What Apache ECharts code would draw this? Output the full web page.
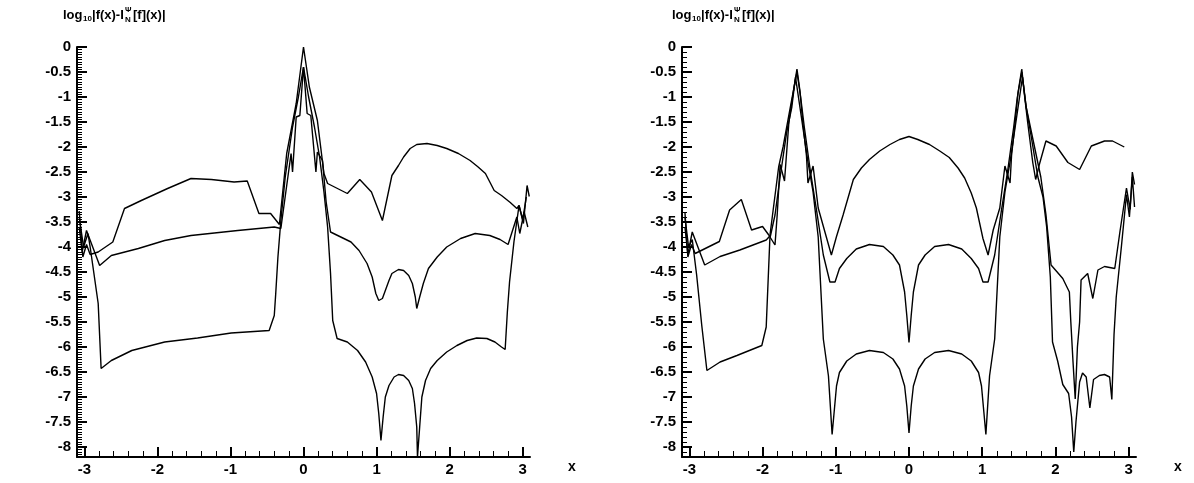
<!DOCTYPE html>
<html>
<head>
<meta charset="utf-8">
<script src="https://cdn.jsdelivr.net/npm/echarts@6/dist/echarts.min.js"></script>
<style>html,body{margin:0;background:#fff}#chart{width:1194px;height:483px}</style>
</head>
<body>
<div id="chart"></div>
<script>
// tick positions
var xMajor=[-3,-2,-1,0,1,2,3];
var xMinor=[-3,-2.8,-2.6,-2.4,-2.2,-2,-1.8,-1.6,-1.4,-1.2,-1,-0.8,-0.6,-0.4,-0.2,0,0.2,0.4,0.6,0.8,1,1.2,1.4,1.6,1.8,2,2.2,2.4,2.6,2.8,3];
var yMajor=[0,-0.5,-1,-1.5,-2,-2.5,-3,-3.5,-4,-4.5,-5,-5.5,-6,-6.5,-7,-7.5,-8];

// left panel, three error curves [x, log10 error]
var leftTop=[[-3.07,-3.28],[-3.02,-4.2],[-2.97,-3.95],[-2.92,-4.15],[-2.81,-4.10],[-2.61,-3.90],[-2.45,-3.23],[-2.22,-3.07],[-1.86,-2.83],[-1.54,-2.63],[-1.26,-2.65],[-0.95,-2.70],[-0.77,-2.68],[-0.61,-3.33],[-0.45,-3.33],[-0.33,-3.55],[-0.23,-2.13],[-0.1,-1.13],[0,0],[0.08,-0.8],[0.19,-1.47],[0.28,-2.53],[0.33,-2.73],[0.6,-2.93],[0.77,-2.65],[0.93,-2.9],[1.08,-3.47],[1.21,-2.57],[1.3,-2.37],[1.37,-2.2],[1.46,-2.03],[1.55,-1.95],[1.69,-1.93],[1.83,-1.97],[1.96,-2.03],[2.12,-2.13],[2.28,-2.27],[2.39,-2.4],[2.49,-2.53],[2.55,-2.7],[2.61,-2.87],[2.71,-2.97],[2.83,-3.11],[2.92,-3.23],[2.95,-3.17],[3.01,-3.53],[3.06,-2.77],[3.09,-2.99]];
var leftMid=[[-3.07,-3.6],[-3.03,-4.1],[-2.97,-3.67],[-2.79,-4.37],[-2.63,-4.17],[-2.26,-4.03],[-1.9,-3.87],[-1.54,-3.77],[-1.22,-3.72],[-0.9,-3.67],[-0.4,-3.6],[-0.31,-3.63],[-0.17,-2.13],[-0.15,-2.5],[-0.1,-1.4],[-0.05,-1.37],[0,-0.4],[0.05,-1.33],[0.1,-1.37],[0.17,-2.5],[0.19,-2.1],[0.26,-2.27],[0.31,-3.1],[0.37,-3.7],[0.51,-3.8],[0.65,-3.9],[0.76,-4.07],[0.87,-4.33],[0.94,-4.6],[0.99,-4.93],[1.03,-5.07],[1.08,-5.03],[1.12,-4.87],[1.17,-4.67],[1.21,-4.53],[1.3,-4.45],[1.37,-4.47],[1.44,-4.57],[1.49,-4.73],[1.53,-5.0],[1.55,-5.23],[1.59,-5.0],[1.64,-4.73],[1.71,-4.43],[1.83,-4.2],[1.96,-4.0],[2.15,-3.83],[2.35,-3.73],[2.55,-3.77],[2.69,-3.85],[2.8,-3.95],[2.92,-3.4],[2.96,-3.73],[3.02,-3.3],[3.07,-3.6]];
var leftLow=[[-3.07,-3.4],[-3.01,-4.0],[-2.95,-3.73],[-2.92,-4.0],[-2.81,-5.13],[-2.77,-6.43],[-2.63,-6.27],[-2.35,-6.07],[-1.9,-5.9],[-1.45,-5.82],[-0.99,-5.72],[-0.47,-5.67],[-0.4,-5.37],[-0.38,-4.93],[-0.35,-4.2],[-0.31,-3.47],[-0.25,-2.6],[-0.15,-1.6],[-0.07,-1.0],[0,-0.4],[0.07,-1.0],[0.15,-1.6],[0.22,-2.2],[0.28,-2.9],[0.33,-3.6],[0.37,-4.53],[0.4,-5.47],[0.46,-5.83],[0.6,-5.9],[0.74,-6.07],[0.85,-6.3],[0.94,-6.6],[1.0,-6.93],[1.03,-7.33],[1.06,-7.87],[1.09,-7.4],[1.12,-7.0],[1.17,-6.77],[1.24,-6.6],[1.3,-6.55],[1.37,-6.57],[1.44,-6.67],[1.49,-6.83],[1.52,-7.13],[1.55,-7.6],[1.56,-8.2],[1.59,-7.6],[1.62,-7.0],[1.67,-6.67],[1.74,-6.43],[1.83,-6.27],[1.96,-6.1],[2.1,-5.97],[2.24,-5.87],[2.37,-5.82],[2.51,-5.83],[2.62,-5.9],[2.71,-6.0],[2.76,-6.05],[2.79,-5.3],[2.82,-4.7],[2.88,-3.9],[2.95,-3.17],[3.0,-3.45],[3.05,-3.0]];

// right panel
var rightTop=[[-3.06,-3.3],[-3.02,-4.2],[-2.97,-3.95],[-2.92,-4.13],[-2.59,-3.89],[-2.45,-3.26],[-2.29,-3.05],[-2.15,-3.66],[-2.0,-3.59],[-1.92,-3.75],[-1.83,-3.96],[-1.8,-3.36],[-1.76,-2.35],[-1.7,-2.68],[-1.64,-1.5],[-1.58,-0.9],[-1.53,-0.44],[-1.49,-0.87],[-1.45,-1.51],[-1.4,-2.18],[-1.38,-2.72],[-1.31,-2.38],[-1.24,-3.22],[-1.06,-4.16],[-0.99,-3.79],[-0.9,-3.36],[-0.76,-2.65],[-0.65,-2.42],[-0.54,-2.25],[-0.4,-2.08],[-0.26,-1.95],[-0.13,-1.85],[0,-1.79],[0.12,-1.85],[0.28,-1.95],[0.42,-2.08],[0.55,-2.21],[0.67,-2.42],[0.76,-2.62],[0.85,-2.92],[0.92,-3.22],[1.01,-3.83],[1.08,-4.16],[1.15,-3.66],[1.24,-3.22],[1.31,-2.38],[1.38,-2.72],[1.4,-2.18],[1.45,-1.5],[1.49,-0.9],[1.54,-0.44],[1.58,-1.0],[1.62,-1.5],[1.69,-2.31],[1.73,-2.65],[1.78,-2.35],[1.87,-1.88],[2.01,-1.98],[2.17,-2.31],[2.33,-2.45],[2.49,-1.98],[2.67,-1.88],[2.78,-1.88],[2.94,-2.0]];
var rightMid=[[-3.06,-3.6],[-3.02,-4.15],[-2.96,-3.7],[-2.79,-4.36],[-2.58,-4.19],[-2.31,-4.06],[-1.95,-3.86],[-1.9,-3.78],[-1.85,-3.2],[-1.78,-2.4],[-1.72,-2.0],[-1.62,-1.2],[-1.53,-0.5],[-1.48,-1.0],[-1.43,-1.6],[-1.35,-2.45],[-1.26,-3.29],[-1.17,-4.16],[-1.08,-4.7],[-1.01,-4.7],[-0.95,-4.43],[-0.85,-4.23],[-0.72,-4.04],[-0.54,-3.95],[-0.35,-3.99],[-0.22,-4.16],[-0.13,-4.36],[-0.06,-4.9],[-0.03,-5.37],[0,-5.91],[0.03,-5.37],[0.06,-4.9],[0.13,-4.36],[0.22,-4.16],[0.35,-3.99],[0.54,-3.95],[0.72,-4.04],[0.85,-4.23],[0.95,-4.43],[1.01,-4.7],[1.08,-4.7],[1.17,-4.16],[1.26,-3.29],[1.35,-2.45],[1.43,-1.6],[1.48,-1.0],[1.54,-0.5],[1.6,-1.2],[1.7,-1.9],[1.8,-2.6],[1.87,-3.35],[1.94,-4.36],[2.1,-4.63],[2.19,-4.9],[2.21,-5.5],[2.24,-6.3],[2.27,-7.04],[2.3,-6.0],[2.33,-5.5],[2.35,-4.66],[2.44,-4.53],[2.51,-5.03],[2.58,-4.46],[2.67,-4.39],[2.81,-4.43],[2.88,-3.7],[2.97,-2.82],[3.02,-3.25],[3.05,-2.5],[3.08,-2.75]];
var rightLow=[[-3.06,-3.4],[-3.01,-4.0],[-2.96,-3.85],[-2.9,-4.56],[-2.83,-5.57],[-2.76,-6.47],[-2.58,-6.3],[-2.35,-6.17],[-2.01,-5.97],[-1.95,-5.6],[-1.9,-3.83],[-1.83,-3.36],[-1.76,-2.6],[-1.67,-1.7],[-1.6,-1.2],[-1.55,-0.6],[-1.5,-1.1],[-1.45,-1.6],[-1.38,-2.3],[-1.31,-2.9],[-1.24,-3.8],[-1.17,-5.84],[-1.1,-6.58],[-1.05,-7.75],[-0.99,-6.78],[-0.95,-6.51],[-0.85,-6.28],[-0.72,-6.14],[-0.54,-6.07],[-0.35,-6.11],[-0.22,-6.24],[-0.13,-6.44],[-0.06,-6.78],[-0.03,-7.18],[0,-7.72],[0.03,-7.18],[0.06,-6.78],[0.13,-6.44],[0.22,-6.24],[0.35,-6.11],[0.54,-6.07],[0.72,-6.14],[0.85,-6.28],[0.95,-6.51],[0.99,-6.78],[1.05,-7.75],[1.1,-6.58],[1.17,-5.84],[1.24,-3.8],[1.31,-2.9],[1.38,-2.3],[1.45,-1.6],[1.5,-1.1],[1.55,-0.6],[1.6,-1.2],[1.67,-1.8],[1.76,-2.6],[1.83,-3.0],[1.88,-3.6],[1.93,-4.6],[1.96,-5.9],[2.03,-6.28],[2.1,-6.75],[2.18,-6.93],[2.22,-7.4],[2.25,-8.1],[2.28,-7.5],[2.33,-6.7],[2.37,-6.52],[2.42,-6.6],[2.47,-7.22],[2.52,-6.65],[2.6,-6.57],[2.67,-6.55],[2.74,-6.6],[2.77,-7.05],[2.8,-5.75],[2.83,-5.0],[2.9,-4.0],[2.97,-2.95],[3.01,-3.4],[3.05,-2.6],[3.08,-3.2]];

var FONT='"Liberation Sans", Arial, sans-serif';

function xAxisPair(g){
	return [{
		type:'value',gridIndex:g,min:-3.1,max:3.1,position:'bottom',
		axisLine:{onZero:false,lineStyle:{color:'#000',width:2}},
		axisTick:{inside:true,length:10,customValues:xMajor,lineStyle:{color:'#000',width:2}},
		axisLabel:{customValues:xMajor,color:'#000',fontSize:15,fontWeight:'bold',fontFamily:FONT,margin:5},
		splitLine:{show:false},
		name:'x',nameLocation:'end',nameGap:38,
		nameTextStyle:{color:'#000',fontSize:14,fontWeight:'bold',fontFamily:FONT,verticalAlign:'top',padding:[3,0,0,0]}
	},{
		type:'value',gridIndex:g,min:-3.1,max:3.1,position:'bottom',
		axisLine:{show:false,onZero:false},
		axisTick:{inside:true,length:6,customValues:xMinor,lineStyle:{color:'#000',width:1}},
		axisLabel:{show:false},
		splitLine:{show:false}
	}];
}

function yAxisPair(g,step){
	return [{
		type:'value',gridIndex:g,min:-8.2,max:0,position:'left',
		axisLine:{onZero:false,lineStyle:{color:'#000',width:2}},
		axisTick:{inside:true,length:10,customValues:yMajor,lineStyle:{color:'#000',width:2}},
		axisLabel:{customValues:yMajor,color:'#000',fontSize:15,fontWeight:'bold',fontFamily:FONT,margin:6,
			formatter:function(v){return String(v);}},
		splitLine:{show:false}
	},{
		type:'value',gridIndex:g,min:-8.2,max:0,interval:step,position:'left',
		axisLine:{show:false,onZero:false},
		axisTick:{inside:true,length:5,lineStyle:{color:'#000',width:1}},
		axisLabel:{show:false},
		splitLine:{show:false}
	}];
}

function curve(data,g){
	return {type:'line',xAxisIndex:g*2,yAxisIndex:g*2,data:data,symbol:'none',
		lineStyle:{color:'#000',width:1.4},silent:true};
}

// title: log10|f(x)-I^Psi_N[f](x)|
function titleParts(x0){
	var main={fontSize:13,fontWeight:'bold',fontFamily:FONT,fill:'#000',verticalAlign:'middle'};
	var small={fontSize:8,fontWeight:'bold',fontFamily:FONT,fill:'#000',verticalAlign:'middle'};
	function t(txt,dx,y,st){
		return {type:'text',x:x0+dx,y:y,style:Object.assign({text:txt},st)};
	}
	return [t('log',0,15,main),t('10',20,19,small),t('|f(x)-I',29,15,main),
		t('\u03A8',62,10,small),t('N',62,20,small),t('[f](x)|',70,15,main)];
}

var chart=echarts.init(document.getElementById('chart'));
var option={
	backgroundColor:'#fff',
	animation:false,
	grid:[
		{left:77,top:47,width:453,height:410,containLabel:false,outerBoundsMode:'none'},
		{left:682,top:47,width:454,height:410,containLabel:false,outerBoundsMode:'none'}
	],
	xAxis:xAxisPair(0).concat(xAxisPair(1)),
	yAxis:yAxisPair(0,0.05).concat(yAxisPair(1,0.1)),
	graphic:titleParts(63).concat(titleParts(672)),
	series:[
		curve(leftTop,0),curve(leftMid,0),curve(leftLow,0),
		curve(rightTop,1),curve(rightMid,1),curve(rightLow,1)
	]
};
chart.setOption(option);
</script>
</body>
</html>
